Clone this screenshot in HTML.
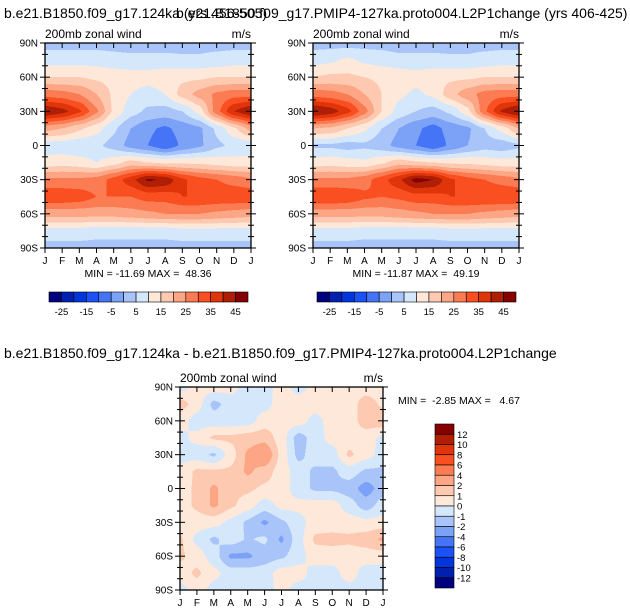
<!DOCTYPE html>
<html><head><meta charset="utf-8">
<style>
html,body{margin:0;padding:0;background:#fff;}
body{width:630px;height:616px;position:relative;overflow:hidden;font-family:"Liberation Sans",Arial,sans-serif;}
svg{position:absolute;left:0;top:0;}
text{white-space:pre;}
</style></head>
<body>
<svg id="fig" width="630" height="616" viewBox="0 0 630 616" font-family="Liberation Sans, Arial, sans-serif">
<g id="panels"></g>
<text x="4" y="18" font-size="14">b.e21.B1850.f09_g17.124ka (yrs 456-505)</text>
<text x="176" y="18" font-size="14">b.e21.B1850.f09_g17.PMIP4-127ka.proto004.L2P1change (yrs 406-425)</text>
<text x="4" y="358" font-size="14">b.e21.B1850.f09_g17.124ka - b.e21.B1850.f09_g17.PMIP4-127ka.proto004.L2P1change</text>
</svg>
<script>
const months=["J","F","M","A","M","J","J","A","S","O","N","D","J"];
const latLabels=["90N","60N","30N","0","30S","60S","90S"];
const topLevels=[-25,-20,-15,-10,-5,0,5,10,15,20,25,30,35,40,45];
const topBarLabels=["-25","-15","-5","5","15","25","35","45"];
const diffLevels=[-12,-10,-8,-6,-4,-2,-1,0,1,2,4,6,8,10,12];
const colors=["#00007f","#0020b0","#0036dc","#1a52f6","#4574f6","#7ca2f8","#a8c4f9","#d5e7fb","#fde8da","#fdc9b1","#fca686","#fb7c52","#f94f21","#e0340a","#b01f05","#850000"];
// rows: 90N,75N,60N,45N,30N,15N,0,15S,30S,45S,60S,75S,90S ; cols J..J
const wind124=[
[3,3,3,3,3,2,2,2,3,3,3,3,3],
[8,8,8,8,7,7,7,7,6,6,7,8,8],
[15,15,15,14,13,12,12,13,14,14,15,15,15],
[28,27,25,20,14,10,8,10,17,22,26,28,28],
[45,42,36,26,14,7,4,3,5,12,28,40,45],
[22,20,16,12,6,0,-4,-6,-3,-1,6,14,22],
[7,7,6,6,3,-2,-5,-9,-4,-1,4,6,7],
[12,13,12,10,13,17,15,14,14,14,13,12,12],
[26,26,26,27,32,38,46,44,36,32,30,28,26],
[34,34,33,30,30,30,32,32,35,35,34,34,34],
[22,22,22,22,22,23,24,25,25,25,24,23,22],
[8,8,8,7,7,7,7,7,8,8,8,8,8],
[3,3,3,3,3,3,3,3,3,3,3,3,3]];
const wind127=[
[3,3,3,3,3,2,2,2,3,3,3,3,3],
[8,9,11,9,8,7,7,7,6,6,7,8,8],
[15,16,16,15,14,13,12,13,14,14,15,15,15],
[28,27,25,20,15,11,9,11,18,23,27,28,28],
[46,43,37,27,15,8,5,3,6,13,29,41,46],
[20,19,15,11,5,0,-4,-7,-3,-1,5,12,20],
[4,4,3,4,2,-2,-5,-9,-4,0,3,2,4],
[12,13,12,11,14,18,16,15,14,14,13,12,12],
[26,26,26,28,33,39,47,45,36,32,30,28,26],
[35,35,34,31,30,31,33,33,35,35,35,35,35],
[22,22,22,22,22,23,24,25,25,25,24,23,22],
[8,8,8,7,7,7,7,7,8,8,8,8,8],
[3,3,3,3,3,3,3,3,3,3,3,3,3]];
const windDiff=[
[-0.5,0.5,0.5,0.4,-0.5,-0.5,0.5,-0.4,0.4,0.5,0.5,0.5,0.4],
[1.5,0.5,-1.3,-0.6,-0.5,-0.4,0.5,0.5,0.5,0.9,0.5,1.5,0.8],
[0.5,-0.5,-0.5,-0.5,-0.5,0.5,0.5,0.5,-0.4,0.5,0.5,1.5,1.7],
[-0.3,0.3,1.2,1.2,1.5,1.6,0.5,-1.5,-0.5,0.4,0.5,0.5,-0.3],
[-0.4,-0.5,-1.2,0.5,2.2,3.2,0.6,-1.3,-0.5,-0.5,1.2,0.4,-0.4],
[0.3,1.2,1.2,1.2,2.2,1.5,0.5,-0.5,-1.2,-1.2,-0.5,-1.2,-1.2],
[0.5,1.2,2.2,1.3,1.2,0.8,0.5,-0.5,-1.2,-1.2,-1.5,-2.5,-1.5],
[0.5,1.2,2.2,1.2,0.5,-0.5,0.3,0.3,0.5,0.5,-0.5,-1.5,-0.5],
[0.5,0.5,0.4,-0.3,-1.2,-2.2,-1.2,-0.4,0.5,0.5,0.5,0.3,0.4],
[1.2,-0.3,-1.2,-0.5,-1.1,-0.8,-2.2,-0.4,1.2,1.3,1.2,1.5,2.2],
[1.2,0.5,-0.5,-2.2,-2.2,-1.5,-1.2,-0.4,0.5,0.5,0.5,0.5,0.5],
[0.5,1.2,0.3,-0.5,-0.5,-0.5,0.5,0.4,-0.4,-0.4,0.5,-0.5,-0.5],
[-0.4,0.5,-0.4,-0.5,-0.4,-0.4,0.3,-0.4,-0.4,-0.5,-0.4,-0.4,-0.4]];

const NS="http://www.w3.org/2000/svg";
const root=document.getElementById('panels');
function mk(tag,attrs,parent){const e=document.createElementNS(NS,tag);for(const k in attrs)e.setAttribute(k,attrs[k]);(parent||root).appendChild(e);return e;}
function colorFor(v,levels){let i=0;while(i<levels.length&&v>levels[i])i++;return colors[i];}
function sample(grid,fx,fy){
  const i=Math.min(11,Math.floor(fy)),j=Math.min(11,Math.floor(fx));
  const ty=fy-i,tx=fx-j;
  const sx=tx*tx*(3-2*tx)*0.35+tx*0.65, sy=ty*ty*(3-2*ty)*0.35+ty*0.65;
  const a=grid[i][j],b=grid[i][j+1],c=grid[i+1][j],d=grid[i+1][j+1];
  return a*(1-sx)*(1-sy)+b*sx*(1-sy)+c*(1-sx)*sy+d*sx*sy;
}
function panel(name,grid,levels,x0,y0,w,h){
  const g=mk('g',{});
  
  
  const fo=mk('foreignObject',{x:x0,y:y0,width:w,height:h},g);
  const cv=document.createElement('canvas');cv.width=w*2;cv.height=h*2;
  cv.style.width=w+'px';cv.style.height=h+'px';cv.style.display='block';
  
  
  fo.appendChild(cv);
  const ctx=cv.getContext('2d');
  for(let py=0;py<h*2;py++)for(let px=0;px<w*2;px++){
    const v=sample(grid,(px+0.5)/(w*2)*12,(py+0.5)/(h*2)*12);
    ctx.fillStyle=colorFor(v,levels);ctx.fillRect(px,py,1,1);
  }
  mk('rect',{x:x0,y:y0,width:w,height:h,fill:'none',stroke:'#000','stroke-width':1.3},g);
  months.forEach((m,k)=>{
    const x=x0+k*w/12;
    mk('line',{x1:x,x2:x,y1:y0+h,y2:y0+h+5,stroke:'#000'},g);
    mk('line',{x1:x,x2:x,y1:y0,y2:y0+5,stroke:'#000'},g);
    const t=mk('text',{x:x,y:y0+h+16,'font-size':10,'text-anchor':'middle'},g);t.textContent=m;
    
    
  });
  for(let k=0;k<=18;k++){const y=y0+k*h/18;const maj=k%3==0;
    mk('line',{x1:x0-(maj?5:3),x2:x0+(maj?5:3),y1:y,y2:y,stroke:'#000'},g);
    mk('line',{x1:x0+w-(maj?5:3),x2:x0+w+(maj?5:3),y1:y,y2:y,stroke:'#000'},g);}
  latLabels.forEach((l,k)=>{const t=mk('text',{x:x0-7,y:y0+k*h/6+3.5,'font-size':10,'text-anchor':'end'},g);t.textContent=l;
    
    });
  const s=mk('text',{x:x0,y:y0-5,'font-size':12},g);s.textContent='200mb zonal wind';
  
  
  const u=mk('text',{x:x0+w,y:y0-5,'font-size':12,'text-anchor':'end'},g);u.textContent='m/s';
  
  
  return g;
}
function hbar(name,x0,y0,w,h){
  const g=mk('g',{});
  
  
  const bw=w/16;
  colors.forEach((c,i)=>{const r=mk('rect',{x:x0+i*bw,y:y0,width:bw,height:h,fill:c,stroke:'#000','stroke-width':0.6},g);
    
    });
  topBarLabels.forEach((l,i)=>{const t=mk('text',{x:x0+(1+2*i)*bw,y:y0+h+13,'font-size':9.5,'text-anchor':'middle'},g);t.textContent=l;
    
    });
}
function minmax(name,txt,x,y,anchor){const t=mk('text',{x:x,y:y,'font-size':10.5,'text-anchor':anchor});t.textContent=txt;
  
  }

panel('panel-124ka',wind124,topLevels,45,43,206,205);
panel('panel-127ka',wind127,topLevels,313,43,206,205);
panel('panel-difference',windDiff,diffLevels,180,387,203,203);
minmax('minmax-124ka','MIN = -11.69 MAX =  48.36',148,277,'middle');
minmax('minmax-127ka','MIN = -11.87 MAX =  49.19',416,277,'middle');
minmax('minmax-difference','MIN =  -2.85 MAX =   4.67',398,404,'start');
hbar('colorbar-124ka',49,292,199,10);
hbar('colorbar-127ka',317,292,199,10);
(function(){
  const g=mk('g',{});
  
  
  const x0=435,y0=424,w=19,h=164,bh=h/16;
  colors.slice().reverse().forEach((c,i)=>{const r=mk('rect',{x:x0,y:y0+i*bh,width:w,height:bh,fill:c,stroke:'#000','stroke-width':0.6},g);
    
    });
  diffLevels.slice().reverse().forEach((l,i)=>{const t=mk('text',{x:x0+w+3,y:y0+(i+1)*bh+3.5,'font-size':9.5},g);t.textContent=String(l);
    
    });
})();
</script>
</body></html>
